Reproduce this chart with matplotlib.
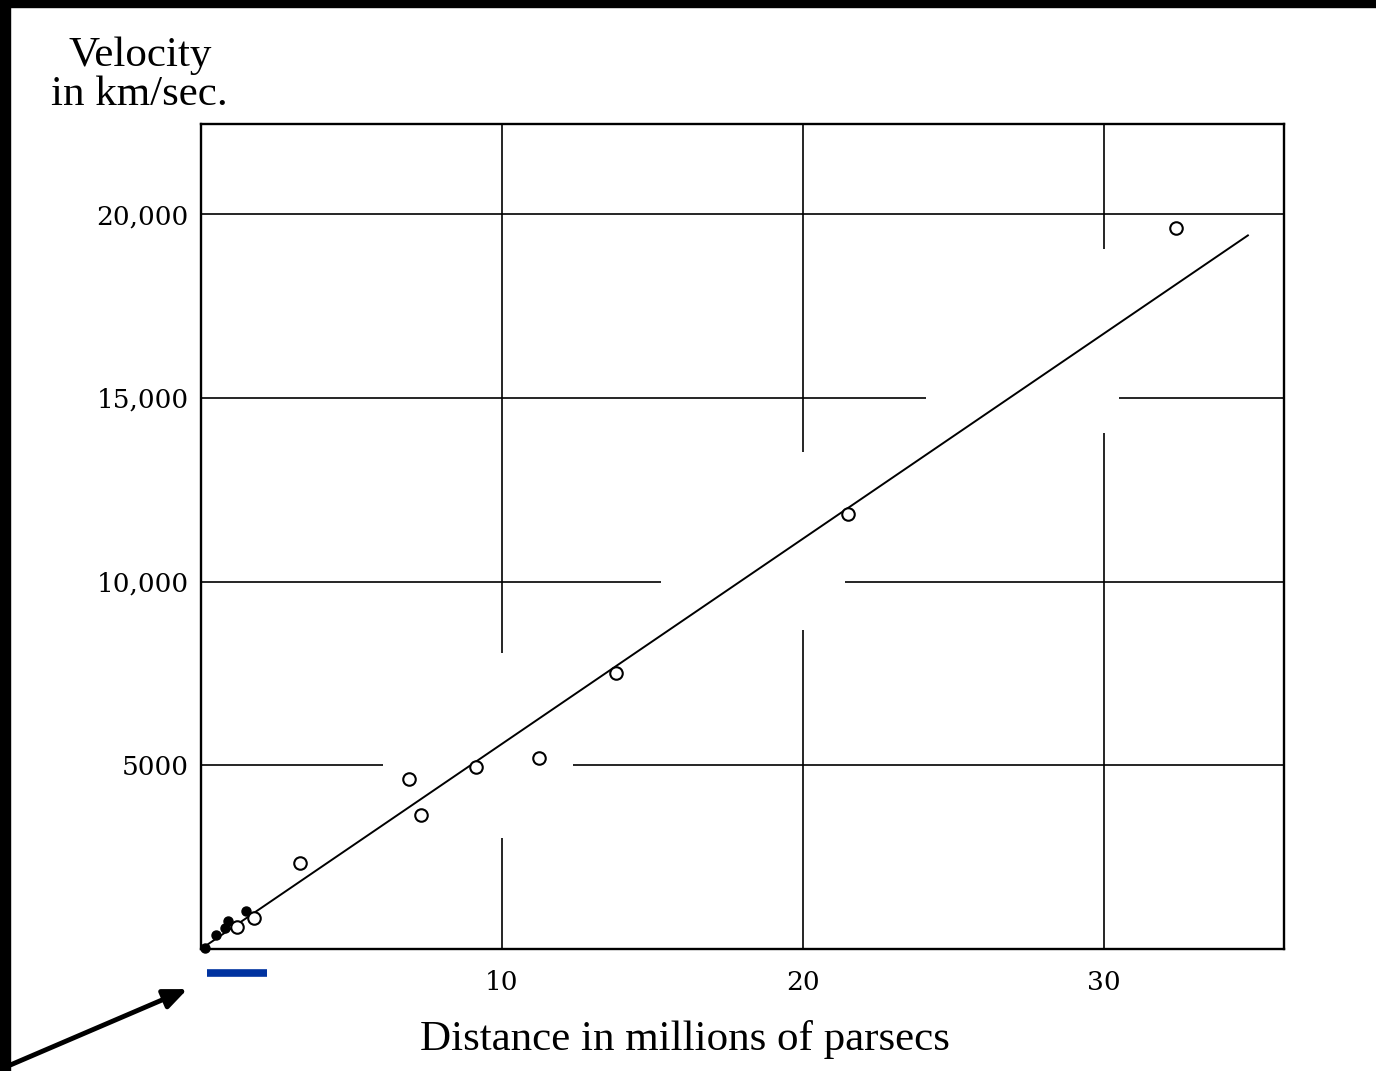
import numpy as np
import matplotlib.pyplot as plt
from matplotlib.patches import Rectangle
from matplotlib import transforms

# distance (Mpc) / velocity (km/s) of the cluster means
dist_open = [32.4, 21.5, 13.8, 11.25, 9.15, 6.9, 7.3, 3.3, 1.76, 1.2]
vel_open = [19620, 11840, 7510, 5200, 4950, 4630, 3650, 2340, 850, 600]

# early nearby nebulae, drawn as solid dots
dist_near = [0.13, 0.5, 0.8, 0.9, 1.5]
vel_near = [30, 380, 570, 760, 1030]

# fitted velocity-distance relation
slope = 558.0
fit_end = 34.8

# grid, with the breaks left where the relation crosses each line
grid_y = [5000, 10000, 15000, 20000]
grid_y_gaps = [(6.05, 12.36), (15.3, 21.4), (24.1, 30.5), None]
grid_x = [10, 20, 30]
grid_x_gaps = [(3020, 8050), (8680, 13520), (14040, 19050)]

yticks = [5000, 10000, 15000, 20000]
ytick_labels = ['5000', '10,000', '15,000', '20,000']
xticks = [10, 20, 30]
xtick_labels = ['10', '20', '30']

# range covered by the 1929 sample
early_range = (0.2, 2.2)

W, H = 1376, 1071
fig = plt.figure(figsize=(W / 100, H / 100), dpi=100, facecolor='white')
ax = fig.add_axes([201 / W, 1 - 949 / H, (1284 - 201) / W, (949 - 124) / H])
ax.set_xlim(0, 36)
ax.set_ylim(0, 22450)

xmax, ymax = 36, 22450
for y, gap in zip(grid_y, grid_y_gaps):
    if gap is None:
        ax.hlines(y, 0, xmax, color='black', lw=1.2, zorder=1)
    else:
        ax.hlines([y, y], [0, gap[1]], [gap[0], xmax], color='black', lw=1.2, zorder=1)
for x, gap in zip(grid_x, grid_x_gaps):
    ax.vlines([x, x], [0, gap[1]], [gap[0], ymax], color='black', lw=1.2, zorder=1)

xf = np.array([0, fit_end])
ax.plot(xf, slope * xf, color='black', lw=1.4, zorder=2)

ax.plot(dist_open, vel_open, 'o', ms=9, mfc='white', mec='black', mew=1.5, zorder=3)
ax.plot(dist_near, vel_near, 'o', ms=6.5, color='black', zorder=3, clip_on=False)

for s in ax.spines.values():
    s.set_linewidth(1.7)

tick_font = dict(family='DejaVu Serif', fontsize=19)
ax.set_yticks(yticks)
ax.set_yticklabels(ytick_labels, **tick_font)
ax.set_xticks(xticks)
ax.set_xticklabels(xtick_labels, **tick_font)
ax.tick_params(length=0)
ax.tick_params(axis='y', pad=9)
ax.tick_params(axis='x', pad=15)

serif = 'Liberation Serif'
fig.text(140 / W, 1 - 66 / H, 'Velocity', ha='center', va='baseline',
         family=serif, fontsize=31)
fig.text(139 / W, 1 - 105 / H, 'in km/sec.', ha='center', va='baseline',
         family=serif, fontsize=31)
fig.text(685 / W, 1 - 1050 / H, 'Distance in millions of parsecs', ha='center',
         va='baseline', family=serif, fontsize=31)

# blue bar under the axis marking the early range
trans = transforms.blended_transform_factory(ax.transData, ax.transAxes)
ax.plot(early_range, [-0.0285, -0.0285], color='#0033a0', lw=5.5,
        solid_capstyle='butt', transform=trans, clip_on=False)

ax.annotate('', xy=(190 / W, 1 - 988 / H), xytext=(8 / W, 1 - 1066 / H),
            xycoords='figure fraction', textcoords='figure fraction',
            arrowprops=dict(arrowstyle='-|>,head_length=1.4,head_width=0.6',
                            color='black', lw=3.5))

# black scan border along the top and left edge
fig.patches.append(Rectangle((0, 1 - 7 / H), 1, 7 / H, transform=fig.transFigure,
                             color='black', zorder=10))
fig.patches.append(Rectangle((0, 0), 10 / W, 1, transform=fig.transFigure,
                             color='black', zorder=10))

fig.savefig('out.png', dpi=100, facecolor='white')
